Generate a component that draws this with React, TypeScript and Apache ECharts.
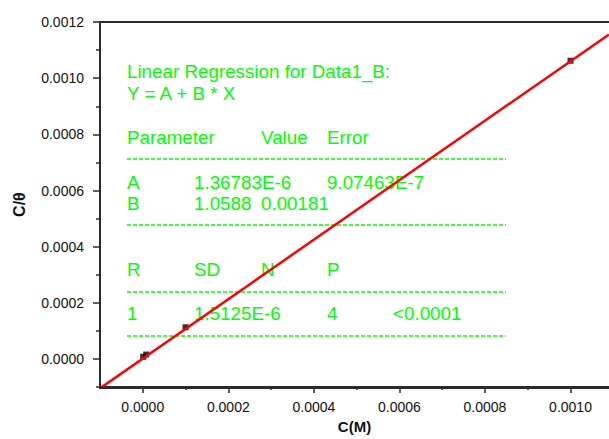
import React, { useEffect, useRef } from "react";
import * as echarts from "echarts";

// ---- data ----
const xValues = [0.000001, 0.000008, 0.0001, 0.001];
const yValues = [0.000008, 0.000016, 0.000113, 0.001062];
const fitA = 1.36783e-6;
const fitB = 1.0588;
const xRange = [-0.0001, 0.00109];
const yRange = [-0.0001, 0.0012];
const xMajorTicks = [0, 0.0002, 0.0004, 0.0006, 0.0008, 0.001];
const xMinorTicks = [0.0001, 0.0003, 0.0005, 0.0007, 0.0009];
const yMajorTicks = [0, 0.0002, 0.0004, 0.0006, 0.0008, 0.001, 0.0012];
const yMinorTicks = [-0.0001, 0.0001, 0.0003, 0.0005, 0.0007, 0.0009, 0.0011];
const xName = "C(M)";
const yName = "C/θ";

const titleLines = ["Linear Regression for Data1_B:", "Y = A + B * X"];
const paramHeader = ["Parameter", "Value", "Error"];
const paramRowA = ["A", "1.36783E-6", "9.07463E-7"];
const paramRowB = ["B", "1.0588", "0.00181"];
const statHeader = ["R", "SD", "N", "P"];
const statRow = ["1", "1.5125E-6", "4", "<0.0001"];

const FONT = "'Liberation Sans', Arial, Helvetica, sans-serif";
const GREEN = "#00ff00";
const AXIS = "#2b2b2b";
const GRID = { left: 100, top: 22, right: 0, bottom: 51 };
const W = 609;
const H = 439;

export default function App() {
  const ref = useRef<HTMLDivElement>(null);
  useEffect(() => {
    if (!ref.current) return;
    const chart = echarts.init(ref.current, undefined, { renderer: "svg" });

    const points = xValues.map((x, i) => [x, yValues[i]]);
    const fitLine = xRange.map((x) => [x, fitA + fitB * x]);

    const txt = (s: string, x: number, y: number) => ({
      type: "text",
      x,
      y,
      z: 1,
      style: {
        text: s,
        fill: GREEN,
        font: `18.8px ${FONT}`,
        verticalAlign: "middle",
        align: "left",
      },
    });
    const dash = (y: number) => ({
      type: "line",
      z: 1,
      shape: { x1: 127, y1: y, x2: 506, y2: y },
      style: { stroke: GREEN, lineWidth: 1.5, lineDash: [4, 2] },
    });
    const colX4 = [127, 194, 261, 327, 393];
    const gBottom = H - GRID.bottom;

    const graphics: any[] = [
      txt(titleLines[0], 127, 71),
      txt(titleLines[1], 127, 93),
      txt(paramHeader[0], 127, 137),
      txt(paramHeader[1], 261, 137),
      txt(paramHeader[2], 327, 137),
      dash(159),
      txt(paramRowA[0], 127, 182),
      txt(paramRowA[1], 194, 182),
      txt(paramRowA[2], 327, 182),
      txt(paramRowB[0], 127, 203),
      txt(paramRowB[1], 194, 203),
      txt(paramRowB[2], 261, 203),
      dash(225),
      ...statHeader.map((s, i) => txt(s, colX4[i], 269)),
      dash(292),
      txt(statRow[0], colX4[0], 313),
      txt(statRow[1], colX4[1], 313),
      txt(statRow[2], colX4[3], 313),
      txt(statRow[3], colX4[4], 313),
      dash(336),
      // frame reinforcement (left and bottom axis lines)
      {
        type: "line",
        z: 100,
        shape: { x1: GRID.left, y1: GRID.top - 1, x2: GRID.left, y2: gBottom + 1 },
        style: { stroke: AXIS, lineWidth: 2 },
      },
      {
        type: "line",
        z: 100,
        shape: { x1: GRID.left - 1, y1: gBottom, x2: W, y2: gBottom },
        style: { stroke: AXIS, lineWidth: 2 },
      },
    ];

    const fmt = (v: number) => v.toFixed(4);
    const labelStyle = { color: "#111", fontSize: 14, fontFamily: FONT };

    chart.setOption({
      animation: false,
      grid: { ...GRID, containLabel: false },
      xAxis: [
        {
          type: "value",
          position: "bottom",
          min: xRange[0],
          max: xRange[1],
          name: xName,
          nameLocation: "middle",
          nameGap: 25,
          nameTextStyle: { color: "#111", fontSize: 15, fontWeight: "bold", fontFamily: FONT },
          axisLine: { show: true, onZero: false, lineStyle: { color: AXIS, width: 2 } },
          axisTick: { show: true, length: 6, customValues: xMajorTicks, lineStyle: { color: AXIS, width: 1.5 } },
          axisLabel: { ...labelStyle, margin: 13, customValues: xMajorTicks, formatter: fmt },
          splitLine: { show: false },
        },
        {
          type: "value",
          position: "bottom",
          min: xRange[0],
          max: xRange[1],
          axisLine: { show: false, onZero: false },
          axisTick: { show: true, length: 3, customValues: xMinorTicks, lineStyle: { color: AXIS, width: 1.5 } },
          axisLabel: { show: false },
          splitLine: { show: false },
        },
        {
          type: "value",
          position: "top",
          min: xRange[0],
          max: xRange[1],
          axisLine: { show: true, onZero: false, lineStyle: { color: AXIS, width: 2 } },
          axisTick: { show: false },
          axisLabel: { show: false },
          splitLine: { show: false },
        },
      ],
      yAxis: [
        {
          type: "value",
          position: "left",
          min: yRange[0],
          max: yRange[1],
          name: yName,
          nameLocation: "middle",
          nameGap: 73,
          nameTextStyle: { color: "#111", fontSize: 16, fontWeight: "bold", fontFamily: FONT },
          axisLine: { show: true, onZero: false, lineStyle: { color: AXIS, width: 2 } },
          axisTick: { show: true, length: 7, customValues: yMajorTicks, lineStyle: { color: AXIS, width: 1.5 } },
          axisLabel: { ...labelStyle, margin: 16, customValues: yMajorTicks, formatter: fmt },
          splitLine: { show: false },
        },
        {
          type: "value",
          position: "left",
          min: yRange[0],
          max: yRange[1],
          axisLine: { show: false, onZero: false },
          axisTick: { show: true, length: 4, customValues: yMinorTicks, lineStyle: { color: AXIS, width: 1.5 } },
          axisLabel: { show: false },
          splitLine: { show: false },
        },
      ],
      series: [
        {
          type: "line",
          data: fitLine,
          xAxisIndex: 0,
          yAxisIndex: 0,
          showSymbol: false,
          symbol: "none",
          lineStyle: { color: "#ff0000", width: 2.5 },
          clip: true,
          z: 3,
        },
        {
          type: "scatter",
          data: points,
          xAxisIndex: 0,
          yAxisIndex: 0,
          symbol: "rect",
          symbolSize: 6,
          itemStyle: { color: "#000" },
          z: 2,
        },
      ],
      graphic: graphics,
    });
    return () => chart.dispose();
  }, []);
  return (
    <div
      ref={ref}
      style={{ position: "fixed", left: 0, top: 0, width: W, height: H, background: "#fff" }}
    />
  );
}
